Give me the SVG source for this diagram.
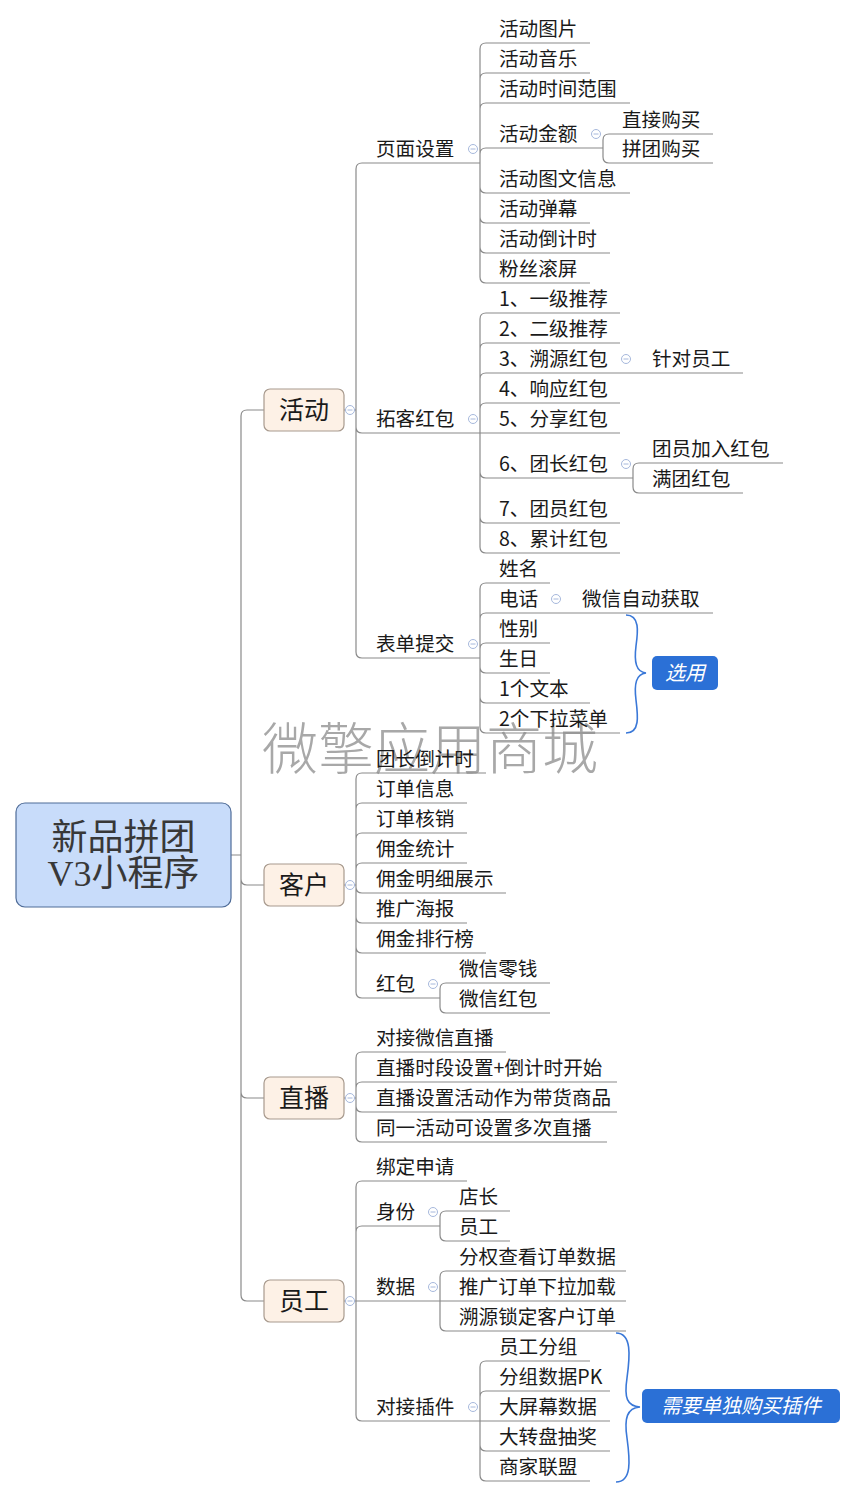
<svg xmlns="http://www.w3.org/2000/svg" width="856" height="1498" viewBox="0 0 856 1498">
<style>
.c{fill:none;stroke:#8a8a8a;stroke-width:1.2}
.t{font-family:"Noto Sans CJK SC","Liberation Sans",sans-serif;font-size:19.6px;fill:#1a1a1a}
.m{font-family:"Noto Sans CJK SC","Liberation Sans",sans-serif;font-size:25px;fill:#1a1a1a;text-anchor:middle}
.box{fill:#fdf1e6;stroke:#a89a8e;stroke-width:1.2}
.br{fill:none;stroke:#3a78d8;stroke-width:1.6}
.lbl{fill:#2b70d6}
.lt{font-family:"Noto Sans CJK SC","Liberation Sans",sans-serif;font-size:20px;fill:#fff;font-style:italic;text-anchor:middle}
.wm{font-family:"Noto Sans CJK SC","Liberation Sans",sans-serif;font-size:56px;fill:#a8a8a8;font-weight:300}
</style>
<defs>
<g id="tog"><circle r="4.5" fill="#fff" stroke="#a6b8dc" stroke-width="1"/><line x1="-2.5" y1="0" x2="2.5" y2="0" stroke="#a6b8dc" stroke-width="1"/></g>
</defs>
<rect width="856" height="1498" fill="#fff"/>
<text class="wm" x="262" y="769">微擎应用商城</text>
<g id="connectors">
<path class="c" d="M231,855 H241 M241,855 V416 Q241,410 247,410 H264 M241,855 V879 Q241,885 247,885 H264 M241,855 V1092 Q241,1098 247,1098 H264 M241,855 V1295 Q241,1301 247,1301 H264"/>
<path class="c" d="M344,410 H356 M356,410 V169 Q356,163 362,163 H480 M356,410 V427 Q356,433 362,433 H480 M356,410 V652 Q356,658 362,658 H480"/>
<path class="c" d="M480,163 V49 Q480,43 486,43 H590 M480,163 V79 Q480,73 486,73 H590 M480,163 V109 Q480,103 486,103 H630 M480,163 V154 Q480,148 486,148 H603 M480,163 V187 Q480,193 486,193 H630 M480,163 V217 Q480,223 486,223 H590 M480,163 V247 Q480,253 486,253 H610 M480,163 V277 Q480,283 486,283 H590"/>
<path class="c" d="M603,148 V140 Q603,134 609,134 H713 M603,148 V157 Q603,163 609,163 H713"/>
<path class="c" d="M480,433 V319 Q480,313 486,313 H620 M480,433 V349 Q480,343 486,343 H620 M480,433 V379 Q480,373 486,373 H633 M480,433 V409 Q480,403 486,403 H620 M480,433 H620 M480,433 V472 Q480,478 486,478 H633 M480,433 V517 Q480,523 486,523 H620 M480,433 V547 Q480,553 486,553 H620"/>
<path class="c" d="M633,373 H743 M633,478 V469 Q633,463 639,463 H783 M633,478 V487 Q633,493 639,493 H743"/>
<path class="c" d="M480,658 V589 Q480,583 486,583 H550 M480,658 V619 Q480,613 486,613 H563 M480,658 V649 Q480,643 486,643 H550 M480,658 V667 Q480,673 486,673 H550 M480,658 V697 Q480,703 486,703 H590 M480,658 V727 Q480,733 486,733 H620 M563,613 H713"/>
<path class="c" d="M344,885 H356 M356,885 V779 Q356,773 362,773 H486 M356,885 V809 Q356,803 362,803 H467 M356,885 V839 Q356,833 362,833 H467 M356,885 V869 Q356,863 362,863 H467 M356,885 V887 Q356,893 362,893 H506 M356,885 V917 Q356,923 362,923 H467 M356,885 V947 Q356,953 362,953 H486 M356,885 V992 Q356,998 362,998 H440"/>
<path class="c" d="M440,998 V989 Q440,983 446,983 H550 M440,998 V1007 Q440,1013 446,1013 H550"/>
<path class="c" d="M344,1098 H356 M356,1098 V1058 Q356,1052 362,1052 H506 M356,1098 V1088 Q356,1082 362,1082 H617 M356,1098 V1106 Q356,1112 362,1112 H617 M356,1098 V1136 Q356,1142 362,1142 H607"/>
<path class="c" d="M344,1301 H356 M356,1301 V1187 Q356,1181 362,1181 H467 M356,1301 V1232 Q356,1226 362,1226 H440 M356,1301 H440 M356,1301 V1415 Q356,1421 362,1421 H480"/>
<path class="c" d="M440,1226 V1217 Q440,1211 446,1211 H510 M440,1226 V1235 Q440,1241 446,1241 H510 M440,1301 V1277 Q440,1271 446,1271 H626 M440,1301 H626 M440,1301 V1325 Q440,1331 446,1331 H626"/>
<path class="c" d="M480,1421 V1367 Q480,1361 486,1361 H590 M480,1421 V1397 Q480,1391 486,1391 H610 M480,1421 H610 M480,1421 V1445 Q480,1451 486,1451 H610 M480,1421 V1475 Q480,1481 486,1481 H590"/>
<path class="br" d="M626,615 C640,615 638,632 636,646 C634,662 636,672 646,673 C636,674 634,684 636,700 C638,716 640,733 626,733"/>
<path class="br" d="M616,1333 C632,1333 630,1356 627,1378 C624,1398 627,1406 640,1407 C627,1408 624,1418 627,1438 C630,1460 632,1482 616,1482"/>
</g>
<g id="root">
<rect x="16" y="803" width="215" height="104" rx="9" fill="#c8dcfa" stroke="#4f6c98" stroke-width="1.2"/>
<text x="123.5" y="850" font-family="Liberation Serif,Noto Sans CJK SC,serif" font-size="36" fill="#383838" text-anchor="middle">新品拼团</text>
<text x="123.5" y="886" font-family="Liberation Serif,Noto Sans CJK SC,serif" font-size="36" fill="#383838" text-anchor="middle">V3小程序</text>
</g>
<g id="n-huodong"><rect class="box" x="264" y="389" width="80" height="42" rx="6"/><text class="m" x="304" y="419">活动</text><use href="#tog" x="350" y="410"/></g>
<g id="n-kehu"><rect class="box" x="264" y="864" width="80" height="42" rx="6"/><text class="m" x="304" y="894">客户</text><use href="#tog" x="350" y="885"/></g>
<g id="n-zhibo"><rect class="box" x="264" y="1077" width="80" height="42" rx="6"/><text class="m" x="304" y="1107">直播</text><use href="#tog" x="350" y="1098"/></g>
<g id="n-yuangong"><rect class="box" x="264" y="1280" width="80" height="42" rx="6"/><text class="m" x="304" y="1310">员工</text><use href="#tog" x="350" y="1301"/></g>

<g id="n-yemian"><text class="t" x="376" y="156">页面设置</text><use href="#tog" x="473" y="149"/></g>
<g id="n-tuoke"><text class="t" x="376" y="426">拓客红包</text><use href="#tog" x="473" y="419"/></g>
<g id="n-biaodan"><text class="t" x="376" y="651">表单提交</text><use href="#tog" x="473" y="644"/></g>

<g id="n-p1"><text class="t" x="499" y="36">活动图片</text></g>
<g id="n-p2"><text class="t" x="499" y="66">活动音乐</text></g>
<g id="n-p3"><text class="t" x="499" y="96">活动时间范围</text></g>
<g id="n-p4"><text class="t" x="499" y="141">活动金额</text><use href="#tog" x="596" y="134"/></g>
<g id="n-p4a"><text class="t" x="622" y="127">直接购买</text></g>
<g id="n-p4b"><text class="t" x="622" y="156">拼团购买</text></g>
<g id="n-p5"><text class="t" x="499" y="186">活动图文信息</text></g>
<g id="n-p6"><text class="t" x="499" y="216">活动弹幕</text></g>
<g id="n-p7"><text class="t" x="499" y="246">活动倒计时</text></g>
<g id="n-p8"><text class="t" x="499" y="276">粉丝滚屏</text></g>

<g id="n-t1"><text class="t" x="499" y="306">1、一级推荐</text></g>
<g id="n-t2"><text class="t" x="499" y="336">2、二级推荐</text></g>
<g id="n-t3"><text class="t" x="499" y="366">3、溯源红包</text><use href="#tog" x="626" y="359"/></g>
<g id="n-t3a"><text class="t" x="652" y="366">针对员工</text></g>
<g id="n-t4"><text class="t" x="499" y="396">4、响应红包</text></g>
<g id="n-t5"><text class="t" x="499" y="426">5、分享红包</text></g>
<g id="n-t6"><text class="t" x="499" y="471">6、团长红包</text><use href="#tog" x="626" y="464"/></g>
<g id="n-t6a"><text class="t" x="652" y="456">团员加入红包</text></g>
<g id="n-t6b"><text class="t" x="652" y="486">满团红包</text></g>
<g id="n-t7"><text class="t" x="499" y="516">7、团员红包</text></g>
<g id="n-t8"><text class="t" x="499" y="546">8、累计红包</text></g>

<g id="n-b1"><text class="t" x="499" y="576">姓名</text></g>
<g id="n-b2"><text class="t" x="499" y="606">电话</text><use href="#tog" x="556" y="599"/></g>
<g id="n-b2a"><text class="t" x="582" y="606">微信自动获取</text></g>
<g id="n-b3"><text class="t" x="499" y="636">性别</text></g>
<g id="n-b4"><text class="t" x="499" y="666">生日</text></g>
<g id="n-b5"><text class="t" x="499" y="696">1个文本</text></g>
<g id="n-b6"><text class="t" x="499" y="726">2个下拉菜单</text></g>
<g id="n-xuanyong"><rect class="lbl" x="652" y="656" width="66" height="34" rx="5"/><text class="lt" x="685" y="680">选用</text></g>

<g id="n-k1"><text class="t" x="376" y="766">团长倒计时</text></g>
<g id="n-k2"><text class="t" x="376" y="796">订单信息</text></g>
<g id="n-k3"><text class="t" x="376" y="826">订单核销</text></g>
<g id="n-k4"><text class="t" x="376" y="856">佣金统计</text></g>
<g id="n-k5"><text class="t" x="376" y="886">佣金明细展示</text></g>
<g id="n-k6"><text class="t" x="376" y="916">推广海报</text></g>
<g id="n-k7"><text class="t" x="376" y="946">佣金排行榜</text></g>
<g id="n-k8"><text class="t" x="376" y="991">红包</text><use href="#tog" x="433" y="984"/></g>
<g id="n-k8a"><text class="t" x="459" y="976">微信零钱</text></g>
<g id="n-k8b"><text class="t" x="459" y="1006">微信红包</text></g>

<g id="n-z1"><text class="t" x="376" y="1045">对接微信直播</text></g>
<g id="n-z2"><text class="t" x="376" y="1075">直播时段设置+倒计时开始</text></g>
<g id="n-z3"><text class="t" x="376" y="1105">直播设置活动作为带货商品</text></g>
<g id="n-z4"><text class="t" x="376" y="1135">同一活动可设置多次直播</text></g>

<g id="n-y1"><text class="t" x="376" y="1174">绑定申请</text></g>
<g id="n-y2"><text class="t" x="376" y="1219">身份</text><use href="#tog" x="433" y="1212"/></g>
<g id="n-y2a"><text class="t" x="459" y="1204">店长</text></g>
<g id="n-y2b"><text class="t" x="459" y="1234">员工</text></g>
<g id="n-y3"><text class="t" x="376" y="1294">数据</text><use href="#tog" x="433" y="1287"/></g>
<g id="n-y3a"><text class="t" x="459" y="1264">分权查看订单数据</text></g>
<g id="n-y3b"><text class="t" x="459" y="1294">推广订单下拉加载</text></g>
<g id="n-y3c"><text class="t" x="459" y="1324">溯源锁定客户订单</text></g>
<g id="n-y4"><text class="t" x="376" y="1414">对接插件</text><use href="#tog" x="473" y="1407"/></g>
<g id="n-y4a"><text class="t" x="499" y="1354">员工分组</text></g>
<g id="n-y4b"><text class="t" x="499" y="1384">分组数据PK</text></g>
<g id="n-y4c"><text class="t" x="499" y="1414">大屏幕数据</text></g>
<g id="n-y4d"><text class="t" x="499" y="1444">大转盘抽奖</text></g>
<g id="n-y4e"><text class="t" x="499" y="1474">商家联盟</text></g>
<g id="n-plugin"><rect class="lbl" x="642" y="1389" width="198" height="34" rx="5"/><text class="lt" x="741" y="1413">需要单独购买插件</text></g>
</svg>
